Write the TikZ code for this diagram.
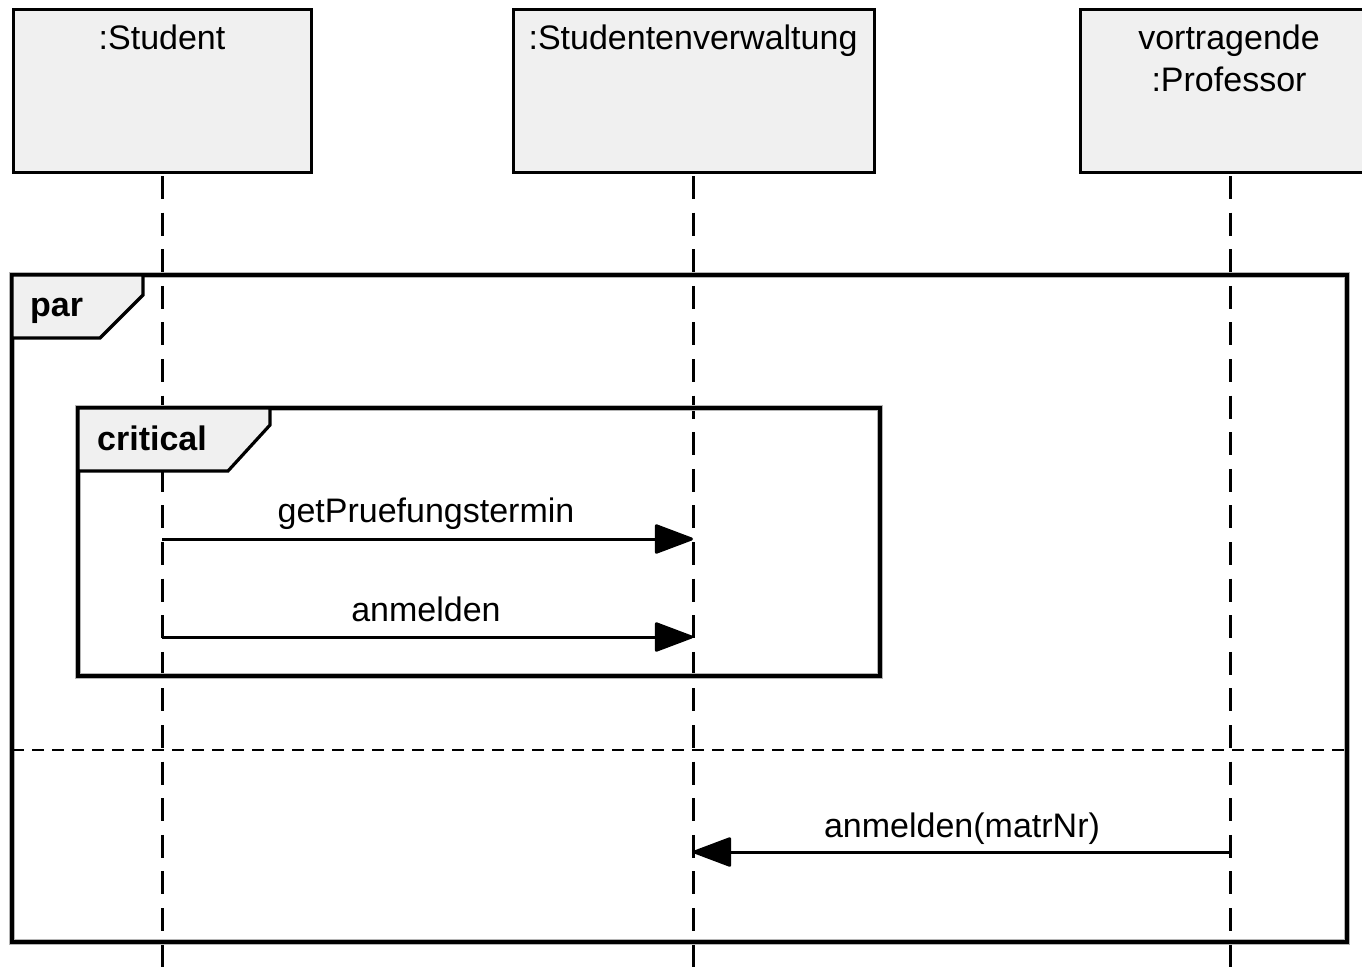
\documentclass[tikz,border=0pt]{standalone}
\usepackage{fontspec}
\setmainfont{Liberation Sans}
\usetikzlibrary{arrows.meta}
\definecolor{boxgray}{HTML}{F0F0F0}
\definecolor{halo}{HTML}{B4B4B4}
\begin{document}
\begin{tikzpicture}[x=1pt,y=-1pt,
  txt/.style={font=\fontsize{34}{42}\selectfont, inner sep=0pt},
  bold/.style={font=\fontsize{34}{42}\selectfont\bfseries, inner sep=0pt},
  headbox/.style={draw, line width=3.2pt, fill=boxgray, anchor=north west, inner sep=0pt},
  lifeline/.style={line width=3pt, dash pattern=on 23pt off 13.6pt},
  framehalo/.style={draw=halo, line width=5.5pt},
  frameline/.style={draw=black, line width=3.2pt},
  separator/.style={line width=2.6pt, dash pattern=on 12pt off 8pt},
  msg/.style={line width=3pt, -{Triangle[length=41pt,width=30pt,round]}}]
\clip (0,0) rectangle (1362,966);
\fill[white] (0,0) rectangle (1362,966);

% participants
\node[headbox, minimum width=298pt, minimum height=163pt] (stu) at (12,8) {};
\node[headbox, minimum width=361pt, minimum height=163pt] (sv) at (512,8) {};
\node[headbox, minimum width=302pt, minimum height=163pt] (prof) at (1079,8) {};
\node[txt, anchor=base] (stuL) at (162,50) {:Student};
\node[txt, anchor=base] (svL) at (693,50) {:Studentenverwaltung};
\node[txt, anchor=base] (profL1) at (1229,50) {vortragende};
\node[txt, anchor=base] (profL2) at (1229,92) {:Professor};

% lifelines
\coordinate (stuTop) at (162,176);  \coordinate (stuBot) at (162,970);
\coordinate (svTop) at (693,176);   \coordinate (svBot) at (693,970);
\coordinate (profTop) at (1230,176); \coordinate (profBot) at (1230,970);
\draw[lifeline] (stuTop) -- (stuBot);
\draw[lifeline] (svTop) -- (svBot);
\draw[lifeline] (profTop) -- (profBot);

% par fragment
\draw[framehalo] (12,275) rectangle (1347,942);
\draw[frameline] (12,275) rectangle (1347,942);
\filldraw[fill=boxgray, line width=3.2pt, line join=miter]
  (12,275) -- (143,275) -- (143,295) -- (100,338) -- (12,338) -- cycle;
\node[bold, anchor=base west] (parL) at (30,316) {par};
\coordinate (sepL) at (12,750); \coordinate (sepR) at (1347,750);
\draw[separator] (sepL) -- (sepR);

% critical fragment
\draw[framehalo] (78,408) rectangle (880,676);
\draw[frameline] (78,408) rectangle (880,676);
\filldraw[fill=boxgray, line width=3.2pt, line join=miter]
  (78,408) -- (270,408) -- (270,425) -- (228,471) -- (78,471) -- cycle;
\node[bold, anchor=base west] (critL) at (97,450) {critical};

% messages
\coordinate (m1s) at (162,539); \coordinate (m1e) at (693,539);
\coordinate (m2s) at (162,637); \coordinate (m2e) at (693,637);
\coordinate (m3s) at (1230,852); \coordinate (m3e) at (693,852);
\draw[msg] (m1s) -- (m1e);
\draw[msg] (m2s) -- (m2e);
\draw[msg] (m3s) -- (m3e);
\node[txt, anchor=base] (m1L) at (426,522) {getPruefungstermin};
\node[txt, anchor=base] (m2L) at (426,621) {anmelden};
\node[txt, anchor=base] (m3L) at (962,837) {anmelden(matrNr)};
\end{tikzpicture}
\end{document}
